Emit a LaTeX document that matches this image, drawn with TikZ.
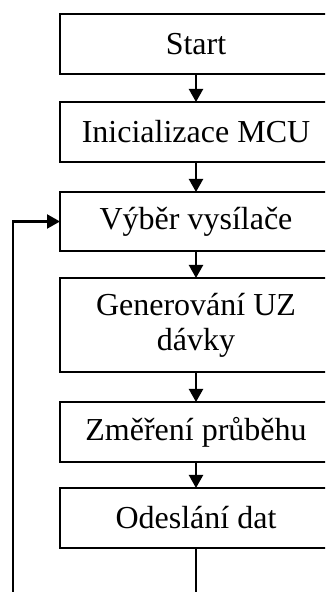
\documentclass[tikz,border=0pt]{standalone}
\usepackage{fontspec}
\setmainfont{Liberation Serif}
\usetikzlibrary{arrows.meta}
\begin{document}
\begin{tikzpicture}[x=1pt,y=1pt,
  box/.style={draw, line width=1.5pt, minimum width=272pt, inner sep=0pt, outer sep=0pt,
    align=center, font=\fontsize{32}{35}\selectfont},
  arr/.style={line width=2.2pt, -{Triangle[length=13pt,width=14pt]}},
  ln/.style={line width=2.2pt}]
\useasboundingbox (0,0) rectangle (325,592);
\clip (0,0) rectangle (325,592);
\fill[white] (0,0) rectangle (325,592);
\node[box, minimum height=60pt] (start) at (196,548) {Start};
\node[box, minimum height=60pt] (init) at (196,460) {Inicializace MCU};
\node[box, minimum height=59pt] (vyber) at (196,370.5) {Výběr vysílače};
\node[box, minimum height=94pt] (gen) at (196,267) {Generování UZ\\dávky};
\node[box, minimum height=60pt] (zmer) at (196,160) {Změření průběhu};
\node[box, minimum height=60pt] (odes) at (196,74) {Odeslání dat};
\coordinate (c1) at (196,-10);
\coordinate (c2) at (13,-10);
\coordinate (c3) at (13,370.5);
\draw[arr] (start) -- (init);
\draw[arr] (init) -- (vyber);
\draw[arr] (vyber) -- (gen);
\draw[arr] (gen) -- (zmer);
\draw[arr] (zmer) -- (odes);
\draw[arr] (odes.south) -- (c1) -- (c2) -- (c3) -- (vyber.west);
\end{tikzpicture}
\end{document}
